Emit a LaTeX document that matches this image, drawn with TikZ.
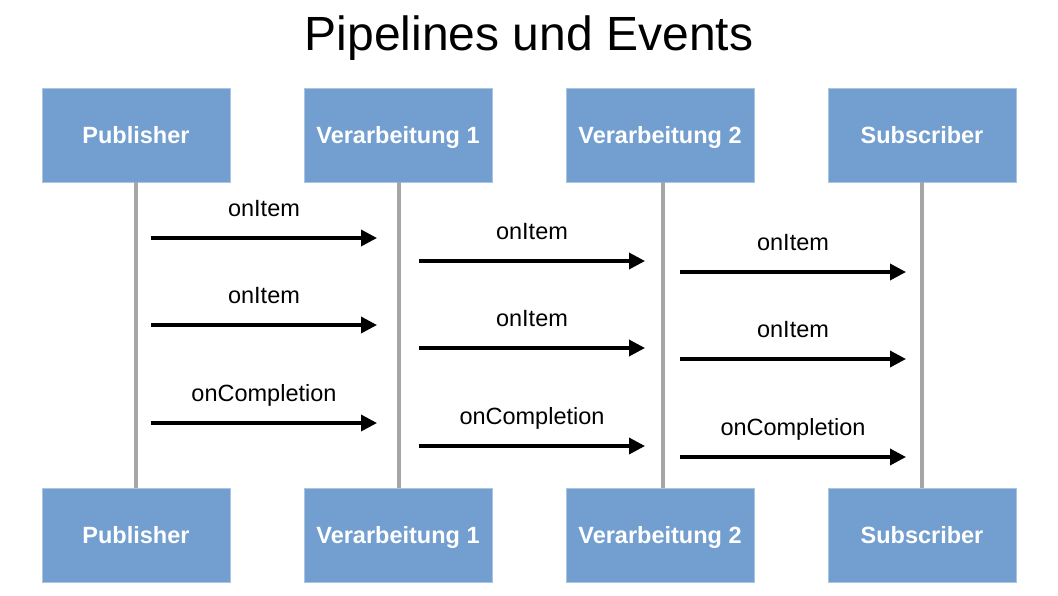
\documentclass[tikz,border=0pt]{standalone}
\usepackage{fontspec}
\setmainfont{Liberation Sans}
\usepackage{tikz}
\usetikzlibrary{arrows.meta}
\definecolor{boxblue}{HTML}{729FCF}
\definecolor{lifegray}{HTML}{A6A6A6}

\begin{document}
\begin{tikzpicture}[x=1pt,y=-1pt,
    box/.style={fill=boxblue, draw=boxblue!60!white, line width=0.8pt,
      minimum width=188pt, minimum height=94pt, text=white,
      text height=18pt, text depth=2pt,
      font=\fontsize{23.5}{28}\selectfont\bfseries},
    life/.style={lifegray, line width=4pt},
    msg/.style={line width=3.5pt, -{Triangle[length=16pt,width=16pt]}},
    lbl/.style={midway, anchor=base, yshift=22pt, inner sep=0pt,
      font=\fontsize{23.5}{28}\selectfont}]
    \useasboundingbox (0,0) rectangle (1058,595);
    \def\top{135}
    \def\bot{535}
    % title
    \node[font=\fontsize{48}{56}\selectfont] (title) at (529,38) {Pipelines und Events};
    % participants
    \node[box] (pub1) at (136,\top) {Publisher};
    \node[box] (vaa1) at (398,\top) {Verarbeitung 1};
    \node[box] (vab1) at (660,\top) {Verarbeitung 2};
    \node[box] (sub1) at (922,\top) {Subscriber};
    \node[box] (pub2) at (136,\bot) {Publisher};
    \node[box] (vaa2) at (398,\bot) {Verarbeitung 1};
    \node[box] (vab2) at (660,\bot) {Verarbeitung 2};
    \node[box] (sub2) at (922,\bot) {Subscriber};
    % lifelines
    \draw[life] (pub1.south) -- (pub2.north);
    \draw[life] ([xshift=1pt]vaa1.south) -- ([xshift=1pt]vaa2.north);
    \draw[life] ([xshift=3pt]vab1.south) -- ([xshift=3pt]vab2.north);
    \draw[life] (sub1.south) -- (sub2.north);
    % message ends
    \coordinate (a1) at (151,238);
    \coordinate (b1) at (377,238);
    \coordinate (a2) at (151,325);
    \coordinate (b2) at (377,325);
    \coordinate (a3) at (151,423);
    \coordinate (b3) at (377,423);
    \coordinate (c1) at (419,261);
    \coordinate (d1) at (645,261);
    \coordinate (c2) at (419,348);
    \coordinate (d2) at (645,348);
    \coordinate (c3) at (419,446);
    \coordinate (d3) at (645,446);
    \coordinate (e1) at (680,272);
    \coordinate (f1) at (906,272);
    \coordinate (e2) at (680,359);
    \coordinate (f2) at (906,359);
    \coordinate (e3) at (680,457);
    \coordinate (f3) at (906,457);
    % messages
    \draw[msg] (a1) -- node[lbl]{onItem} (b1);
    \draw[msg] (a2) -- node[lbl]{onItem} (b2);
    \draw[msg] (a3) -- node[lbl]{onCompletion} (b3);
    \draw[msg] (c1) -- node[lbl]{onItem} (d1);
    \draw[msg] (c2) -- node[lbl]{onItem} (d2);
    \draw[msg] (c3) -- node[lbl]{onCompletion} (d3);
    \draw[msg] (e1) -- node[lbl]{onItem} (f1);
    \draw[msg] (e2) -- node[lbl]{onItem} (f2);
    \draw[msg] (e3) -- node[lbl]{onCompletion} (f3);
\end{tikzpicture}
\end{document}
